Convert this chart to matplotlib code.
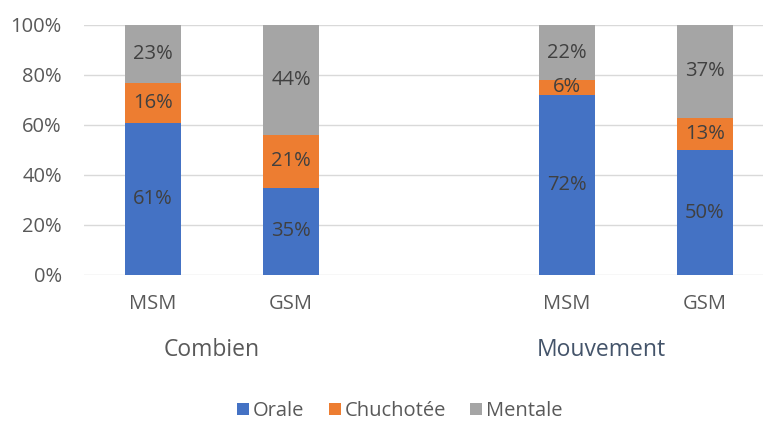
import matplotlib.pyplot as plt
import numpy as np

plt.rcParams['font.family'] = ['Open Sans', 'DejaVu Sans']

categories = ['MSM', 'GSM', 'MSM', 'GSM']
groups = ['Combien', 'Mouvement']
series = ['Orale', 'Chuchotée', 'Mentale']
orale = [61, 35, 72, 50]
chuchotee = [16, 21, 6, 13]
mentale = [23, 44, 22, 37]
colors = ['#4472C4', '#ED7D31', '#A5A5A5']

x = np.array([0, 1, 3, 4])

fig = plt.figure(figsize=(7.63, 4.21), dpi=100)
ax = fig.add_axes([84 / 763, 1 - 275 / 421, 1 - 84 / 763, 250 / 421])

bottom = np.zeros(4)
for name, vals, c in zip(series, [orale, chuchotee, mentale], colors):
    vals = np.array(vals)
    ax.bar(x, vals, 0.4, bottom=bottom, color=c, label=name, zorder=3)
    for xi, b, v in zip(x, bottom, vals):
        ax.text(xi, b + v / 2, '{}%'.format(v), ha='center', va='center',
                fontsize=14.5, color='#404040', zorder=4)
    bottom += vals

ax.set_ylim(0, 100)
ax.set_xlim(-0.5, 4.42)
ax.set_yticks(range(0, 101, 20))
ax.set_yticklabels(['{}%'.format(v) for v in range(0, 101, 20)])
ax.set_xticks(x)
ax.set_xticklabels(categories)
ax.tick_params(axis='both', length=0, labelsize=14.5, colors='#595959')
ax.tick_params(axis='x', pad=14)
ax.tick_params(axis='y', pad=16)
ax.grid(axis='y', color='#D9D9D9', linewidth=1, zorder=0)
for s in ax.spines.values():
    s.set_visible(False)

fig.text(212 / 763, 1 - 350 / 421, groups[0], ha='center', va='center',
         fontsize=16.5, color='#595959')
fig.text(601 / 763, 1 - 350 / 421, groups[1], ha='center', va='center',
         fontsize=16.5, color='#44546A')

fig.legend(loc='center', bbox_to_anchor=(400 / 763, 1 - 411 / 421), ncol=3,
           frameon=False, fontsize=14.5, handlelength=0.6, handleheight=0.6,
           handletextpad=0.2, columnspacing=1.2, labelcolor='#595959')

fig.savefig('out.png', dpi=100)
